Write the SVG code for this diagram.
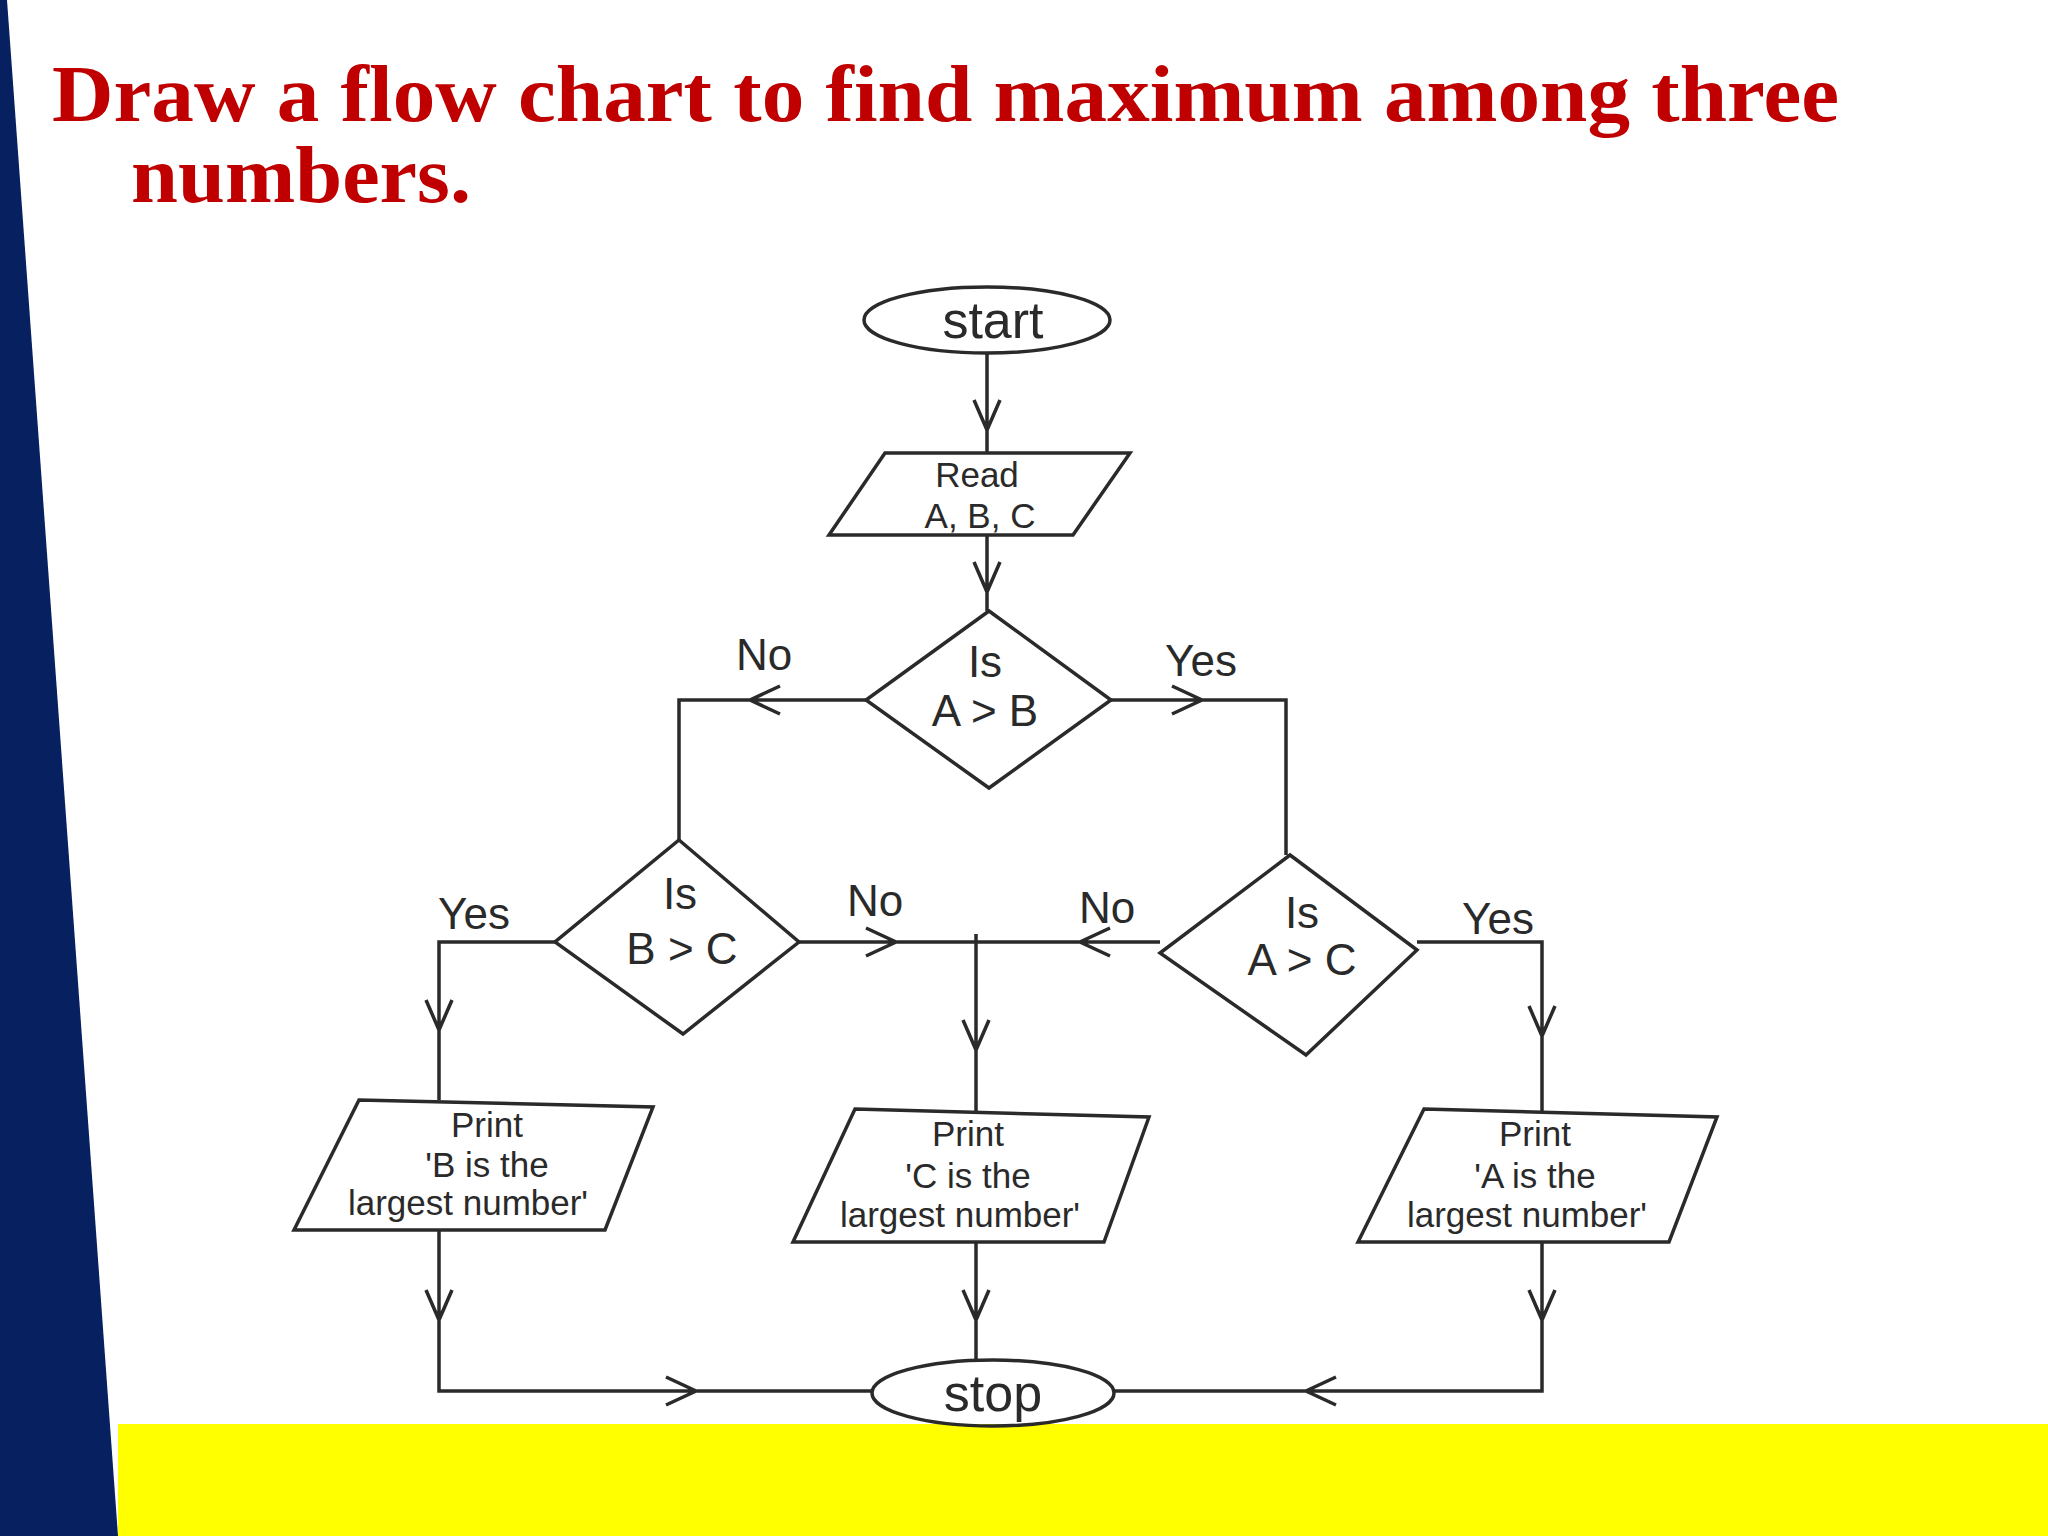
<svg xmlns="http://www.w3.org/2000/svg" width="2048" height="1536" viewBox="0 0 2048 1536">
<style>
.s{fill:none;stroke:#2a2a2a;stroke-width:3.5}
.t{font-family:"Liberation Sans",Arial,sans-serif;fill:#2a2a2a;text-anchor:middle}
.b{font-size:44px}.m{font-size:35px}.l{font-size:52px}
.ttl{font-family:"Liberation Serif","Times New Roman",serif;font-weight:bold;font-size:80px;fill:#c00000}
</style>
<rect width="2048" height="1536" fill="#fff"/>
<polygon points="0,0 7,0 118,1536 0,1536" fill="#062060"/>
<rect x="118" y="1424" width="1930" height="112" fill="#ffff00"/>
<text class="ttl" x="52" y="121" textLength="1787" lengthAdjust="spacingAndGlyphs">Draw a flow chart to find maximum among three</text>
<text class="ttl" x="131" y="202" textLength="340" lengthAdjust="spacingAndGlyphs">numbers.</text>
<g id="connectors" class="s">
<path d="M987 353 V453 M974 400 l13 30 l13 -30"/>
<path d="M987 535 V611 M974 562 l13 30 l13 -30"/>
<path d="M866 700 H679 V840 M780 686 l-30 14 l30 14"/>
<path d="M1111 700 H1286 V855 M1172 686 l30 14 l-30 14"/>
<path d="M799 942 H1160 M976 934 V1113 M866 928 l30 14 l-30 14 M1110 928 l-30 14 l30 14 M963 1020 l13 30 l13 -30"/>
<path d="M555 942 H439 V1100 M426 1000 l13 30 l13 -30"/>
<path d="M1417 942 H1542 V1113 M1529 1006 l13 30 l13 -30"/>
<path d="M439 1230 V1391 H872 M426 1290 l13 30 l13 -30 M666 1377 l30 14 l-30 14"/>
<path d="M976 1242 V1360 M963 1290 l13 30 l13 -30"/>
<path d="M1542 1242 V1391 H1114 M1529 1290 l13 30 l13 -30 M1336 1377 l-30 14 l30 14"/>
</g>
<g id="start"><ellipse class="s" cx="987" cy="320" rx="123" ry="33"/><text class="t l" x="993" y="338">start</text></g>
<g id="read"><polygon class="s" points="885,453 1130,453 1073,535 829,535"/><text class="t m" x="977" y="487">Read</text><text class="t m" x="980" y="528">A, B, C</text></g>
<g id="d1"><polygon class="s" points="989,611 1111,700 989,788 866,700"/><text class="t b" x="985" y="677">Is</text><text class="t b" x="985" y="726">A &gt; B</text></g>
<g id="d2"><polygon class="s" points="679,840 799,942 683,1034 555,942"/><text class="t b" x="680" y="909">Is</text><text class="t b" x="682" y="964">B &gt; C</text></g>
<g id="d3"><polygon class="s" points="1290,855 1417,950 1306,1055 1160,953"/><text class="t b" x="1302" y="928">Is</text><text class="t b" x="1302" y="975">A &gt; C</text></g>
<g id="pb"><polygon class="s" points="359,1100 653,1107 605,1230 294,1230"/><text class="t m" x="487" y="1137">Print</text><text class="t m" x="487" y="1177">'B is the</text><text class="t m" x="468" y="1215">largest number'</text></g>
<g id="pc"><polygon class="s" points="855,1109 1149,1117 1104,1242 793,1242"/><text class="t m" x="968" y="1146">Print</text><text class="t m" x="968" y="1188">'C is the</text><text class="t m" x="960" y="1227">largest number'</text></g>
<g id="pa"><polygon class="s" points="1424,1109 1717,1117 1669,1242 1358,1242"/><text class="t m" x="1535" y="1146">Print</text><text class="t m" x="1535" y="1188">'A is the</text><text class="t m" x="1527" y="1227">largest number'</text></g>
<g id="stop"><ellipse class="s" cx="993" cy="1393" rx="121" ry="33"/><text class="t l" x="993" y="1411">stop</text></g>
<g id="labels">
<text class="t b" x="764" y="670">No</text><text class="t b" x="1201" y="676">Yes</text>
<text class="t b" x="875" y="916">No</text><text class="t b" x="1107" y="923">No</text>
<text class="t b" x="474" y="929">Yes</text><text class="t b" x="1498" y="934">Yes</text>
</g>
</svg>
